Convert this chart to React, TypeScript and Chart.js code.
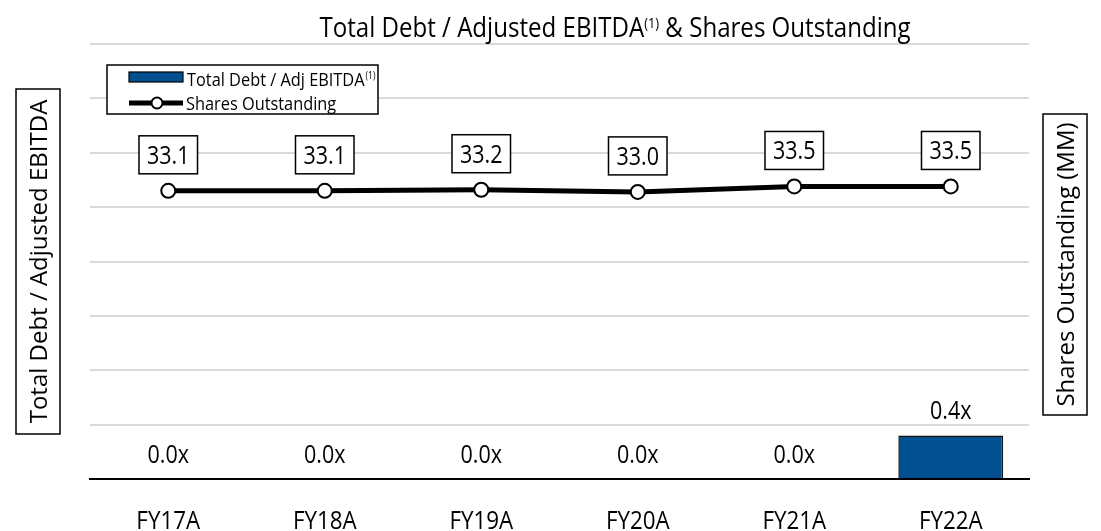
import { useEffect, useRef } from 'react';
import { Chart, registerables } from 'chart.js';

Chart.register(...registerables);

const categories = ['FY17A', 'FY18A', 'FY19A', 'FY20A', 'FY21A', 'FY22A'];
const debtToEbitda = [0.0, 0.0, 0.0, 0.0, 0.0, 0.4];
const sharesOutstanding = [33.1, 33.1, 33.2, 33.0, 33.5, 33.5];
const titleMain = 'Total Debt / Adjusted EBITDA';
const titleSup = '(1)';
const titleRest = ' & Shares Outstanding';
const legendBarLabel = 'Total Debt / Adj EBITDA';
const legendLineLabel = 'Shares Outstanding';
const leftAxisTitle = 'Total Debt / Adjusted EBITDA';
const rightAxisTitle = 'Shares Outstanding (MM)';

const FONT = '"Open Sans", "Noto Sans", sans-serif';
const SX = 0.86;
const BAR_COLOR = '#02508F';

function setFont(ctx: CanvasRenderingContext2D, size: number) {
  ctx.font = `${size}px ${FONT}`;
}

function textWidth(ctx: CanvasRenderingContext2D, s: string, size: number, sx = SX) {
  setFont(ctx, size);
  return ctx.measureText(s).width * sx;
}

// draw text with its cap-height centre at cy
function drawText(
  ctx: CanvasRenderingContext2D,
  s: string,
  x: number,
  cy: number,
  size: number,
  align: CanvasTextAlign = 'center',
  sx = SX,
) {
  ctx.save();
  setFont(ctx, size);
  ctx.fillStyle = '#000';
  ctx.textAlign = align;
  ctx.textBaseline = 'alphabetic';
  ctx.translate(x, cy + size * 0.357);
  ctx.scale(sx, 1);
  ctx.fillText(s, 0, 0);
  ctx.restore();
}

function drawRotatedBox(
  ctx: CanvasRenderingContext2D,
  s: string,
  left: number,
  top: number,
  w: number,
  h: number,
  size: number,
) {
  ctx.save();
  ctx.fillStyle = '#fff';
  ctx.fillRect(left, top, w, h);
  ctx.strokeStyle = '#000';
  ctx.lineWidth = 1.5;
  ctx.strokeRect(left, top, w, h);
  ctx.translate(left + w / 2, top + h / 2);
  ctx.rotate(-Math.PI / 2);
  setFont(ctx, size);
  ctx.fillStyle = '#000';
  ctx.textAlign = 'center';
  ctx.textBaseline = 'alphabetic';
  ctx.fillText(s, 0, size * 0.357);
  ctx.restore();
}

const overlayPlugin = {
  id: 'overlay',
  afterDatasetsDraw(chart: any) {
    const ctx: CanvasRenderingContext2D = chart.ctx;
    const xScale = chart.scales.x;

    // bar value labels
    const barMeta = chart.getDatasetMeta(0);
    barMeta.data.forEach((el: any, i: number) => {
      drawText(ctx, debtToEbitda[i].toFixed(1) + 'x', el.x, el.y - 25, 25);
    });

    // line value labels in boxes
    const lineMeta = chart.getDatasetMeta(1);
    lineMeta.data.forEach((el: any, i: number) => {
      const s = sharesOutstanding[i].toFixed(1);
      const size = 25;
      const w = textWidth(ctx, s, size) + 16;
      const h = 38;
      const bottom = el.y - 17;
      ctx.save();
      ctx.fillStyle = '#fff';
      ctx.fillRect(el.x - w / 2, bottom - h, w, h);
      ctx.strokeStyle = '#000';
      ctx.lineWidth = 1.5;
      ctx.strokeRect(el.x - w / 2, bottom - h, w, h);
      ctx.restore();
      drawText(ctx, s, el.x, bottom - h / 2, size);
    });

    // category labels
    categories.forEach((c, i) => {
      drawText(ctx, c, xScale.getPixelForValue(i), 520, 26);
    });

    // title
    const tSize = 28;
    const supSize = 15;
    const w1 = textWidth(ctx, titleMain, tSize);
    const w2 = textWidth(ctx, titleSup, supSize);
    const w3 = textWidth(ctx, titleRest, tSize);
    const total = w1 + w2 + w3;
    let tx = 615 - total / 2;
    const tcy = 27;
    drawText(ctx, titleMain, tx, tcy, tSize, 'left');
    tx += w1;
    drawText(ctx, titleSup, tx, tcy - 4, supSize, 'left');
    tx += w2;
    drawText(ctx, titleRest, tx, tcy, tSize, 'left');

    // legend
    ctx.save();
    ctx.fillStyle = '#fff';
    ctx.fillRect(107, 65, 271, 49);
    ctx.strokeStyle = '#000';
    ctx.lineWidth = 1.5;
    ctx.strokeRect(107, 65, 271, 49);
    ctx.fillStyle = BAR_COLOR;
    ctx.fillRect(129, 72, 54, 10);
    ctx.strokeStyle = '#000';
    ctx.lineWidth = 1.2;
    ctx.strokeRect(129, 72, 54, 10);
    ctx.beginPath();
    ctx.moveTo(129, 103);
    ctx.lineTo(183, 103);
    ctx.lineWidth = 5;
    ctx.strokeStyle = '#000';
    ctx.stroke();
    ctx.beginPath();
    ctx.arc(157, 103, 5.5, 0, Math.PI * 2);
    ctx.fillStyle = '#fff';
    ctx.fill();
    ctx.lineWidth = 2;
    ctx.stroke();
    ctx.restore();
    const lSize = 19;
    drawText(ctx, legendBarLabel, 187, 79, lSize, 'left');
    const lw = textWidth(ctx, legendBarLabel, lSize);
    drawText(ctx, titleSup, 187 + lw + 1, 75, 10, 'left');
    drawText(ctx, legendLineLabel, 186, 103.5, lSize, 'left');

    // axis titles
    drawRotatedBox(ctx, leftAxisTitle, 16, 89, 44, 345, 24);
    drawRotatedBox(ctx, rightAxisTitle, 1043, 114, 44, 301, 24);
  },
};

export default function App() {
  const canvasRef = useRef<HTMLCanvasElement | null>(null);

  useEffect(() => {
    document.body.style.margin = '0';
    const canvas = canvasRef.current;
    if (!canvas) return;
    const chart = new Chart(canvas, {
      type: 'bar',
      data: {
        labels: categories,
        datasets: [
          {
            type: 'bar',
            label: legendBarLabel,
            data: debtToEbitda,
            backgroundColor: BAR_COLOR,
            borderColor: '#111',
            borderWidth: 1.5,
            borderSkipped: 'bottom',
            yAxisID: 'y',
            categoryPercentage: 1,
            barPercentage: 0.67,
            order: 2,
          },
          {
            type: 'line',
            label: legendLineLabel,
            data: sharesOutstanding,
            borderColor: '#000',
            borderWidth: 5,
            pointRadius: 7,
            pointBackgroundColor: '#fff',
            pointBorderColor: '#000',
            pointBorderWidth: 2,
            tension: 0,
            yAxisID: 'y1',
            order: 1,
          },
        ],
      } as any,
      options: {
        animation: false,
        responsive: false,
        maintainAspectRatio: false,
        layout: { padding: { top: 44, left: 90, right: 72, bottom: 0 } },
        plugins: {
          legend: { display: false },
          title: { display: false },
          tooltip: { enabled: false },
        },
        scales: {
          x: {
            grid: { display: false },
            border: { display: true, color: '#000', width: 2 },
            ticks: { display: false },
            afterFit: (s: any) => {
              s.height = 52;
            },
          },
          y: {
            position: 'left',
            min: 0,
            max: 4,
            ticks: { display: false, stepSize: 0.5 },
            grid: {
              drawTicks: false,
              lineWidth: 2,
              color: (c: any) => (c.tick && c.tick.value === 0 ? 'rgba(0,0,0,0)' : '#d9d9d9'),
            },
            border: { display: false },
            afterFit: (s: any) => {
              s.width = 0;
            },
          },
          y1: {
            display: false,
            position: 'right',
            min: 6.6,
            max: 46.6,
          },
        },
      } as any,
      plugins: [overlayPlugin],
    });
    return () => chart.destroy();
  }, []);

  return <canvas ref={canvasRef} width={1101} height={531} style={{ display: 'block' }} />;
}
